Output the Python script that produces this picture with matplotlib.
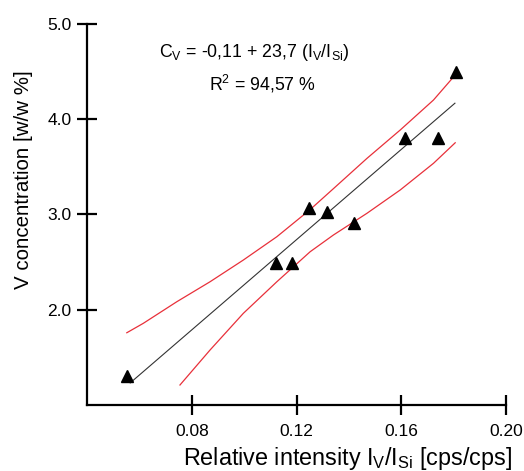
import matplotlib
matplotlib.use("Agg")
from matplotlib import pyplot as plt
import numpy as np

plt.rcParams['font.family'] = ['Liberation Sans', 'DejaVu Sans']
plt.rcParams['mathtext.fontset'] = 'custom'
plt.rcParams['mathtext.rm'] = 'Liberation Sans'
plt.rcParams['mathtext.it'] = 'Liberation Sans:italic'
plt.rcParams['mathtext.default'] = 'regular'

# measured points
ratio = [0.0554, 0.1121, 0.1183, 0.1246, 0.1318, 0.1418, 0.1615, 0.1740, 0.1810]
conc = [1.30, 2.49, 2.49, 3.07, 3.02, 2.91, 3.80, 3.80, 4.50]

# fit coefficients (from the equation on the chart)
intercept = -0.11
slope = 23.7
fit_x = [0.0565, 0.1805]

# confidence band
upper_x = [0.0552, 0.0615, 0.0743, 0.0870, 0.0997, 0.1125, 0.1252, 0.1341, 0.1469, 0.1596, 0.1723, 0.1800]
upper_y = [1.756, 1.855, 2.082, 2.292, 2.520, 2.765, 3.050, 3.270, 3.588, 3.886, 4.201, 4.445]
lower_x = [0.0755, 0.0870, 0.0997, 0.1125, 0.1252, 0.1341, 0.1469, 0.1596, 0.1723, 0.1806]
lower_y = [1.207, 1.575, 1.960, 2.292, 2.607, 2.783, 3.011, 3.256, 3.536, 3.752]

fig = plt.figure(figsize=(5.24, 4.71), dpi=100)
ax = fig.add_axes([87/524, 1-404.7/471, (506-87)/524, (404.7-24)/471])

fx = np.array(fit_x)
ax.plot(fx, intercept + slope*fx, color='#333333', lw=0.8)
ax.plot(upper_x, upper_y, color='#e8303a', lw=0.9)
ax.plot(lower_x, lower_y, color='#e8303a', lw=0.9)
ax.plot(ratio, conc, '^', color='black', markersize=8, clip_on=False)

ax.set_xlim(0.04, 0.20)
ax.set_ylim(1.0, 5.0)
ax.set_xticks([0.08, 0.12, 0.16, 0.20])
ax.set_xticklabels(['0.08', '0.12', '0.16', '0.20'])
ax.set_yticks([2.0, 3.0, 4.0, 5.0])
ax.set_yticklabels(['2.0', '3.0', '4.0', '5.0'])

for s in ['top', 'right']:
    ax.spines[s].set_visible(False)
for s in ['left', 'bottom']:
    ax.spines[s].set_linewidth(1.6)
ax.tick_params(direction='inout', length=14, width=1.6, labelsize=12.5)
ax.tick_params(axis='x', pad=7)
ax.tick_params(axis='y', pad=4)

ax.set_xlabel(r'Relative intensity I$_{V}$/I$_{Si}$ [cps/cps]', fontsize=16.8, labelpad=3)
ax.xaxis.set_label_coords((347-87)/419, -0.105)
ax.xaxis.label.set_va('top')
ax.set_ylabel('V concentration [w/w %]', fontsize=14.8)
ax.yaxis.set_label_coords(-0.129, (404.7-180)/380.7)

ax.text(0.1038, 4.652, r'C$_{V}$ = -0,11 + 23,7 (I$_{V}$/I$_{Si}$)', fontsize=12.8,
        ha='center', va='baseline')
ax.text(0.1071, 4.306, r'R$^{2}$ = 94,57 %', fontsize=12.8, ha='center', va='baseline')

fig.savefig('out.png', dpi=100)
